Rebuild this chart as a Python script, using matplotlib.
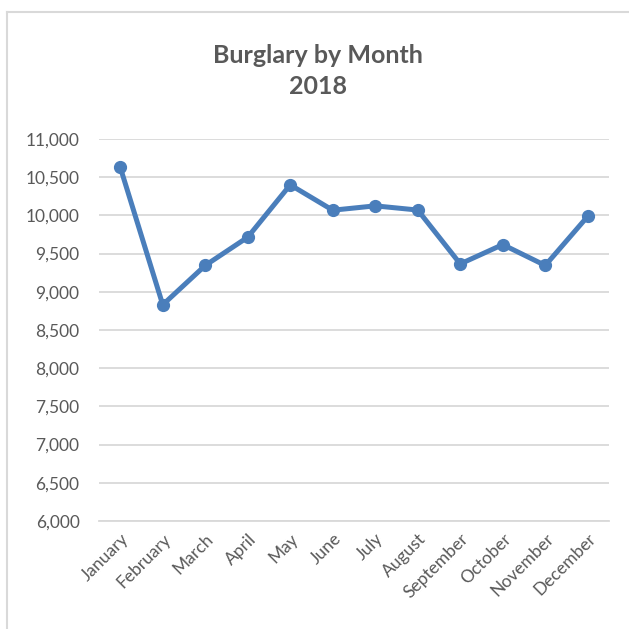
import matplotlib
matplotlib.use("Agg")
import matplotlib.pyplot as plt
from matplotlib.ticker import FuncFormatter, MultipleLocator
from matplotlib.lines import Line2D

months = ["January", "February", "March", "April", "May", "June",
          "July", "August", "September", "October", "November", "December"]
burglaries = [10630, 8830, 9345, 9715, 10400, 10068,
              10125, 10070, 9365, 9618, 9345, 9988]
title_text = "Burglary by Month\n2018"

LINE_COLOR = "#4a7ebb"
TEXT_COLOR = "#595959"
GRID_COLOR = "#d9d9d9"

plt.rcParams["font.family"] = ["Lato", "DejaVu Sans"]

fig = plt.figure(figsize=(6.29, 6.29), dpi=100)
ax = fig.add_axes([99 / 629, 1 - 521 / 629, 510 / 629, 382 / 629])

x = list(range(len(months)))
ax.plot(x, burglaries, color=LINE_COLOR, linewidth=3.6, marker="o",
        markersize=8.5, solid_joinstyle="round", zorder=3)

ax.set_xlim(-0.5, len(months) - 0.5)
ax.set_ylim(6000, 11000)
ax.yaxis.set_major_locator(MultipleLocator(500))
ax.yaxis.set_major_formatter(FuncFormatter(lambda v, _: f"{int(v):,}"))
ax.grid(axis="y", color=GRID_COLOR, linewidth=1.3, zorder=0)
ax.set_axisbelow(True)

ax.set_xticks(x)
ax.set_xticklabels(months, rotation=45, ha="right", rotation_mode="anchor")
ax.tick_params(axis="x", length=0, pad=7, labelsize=12.5, labelcolor=TEXT_COLOR)
ax.tick_params(axis="y", length=0, pad=14, labelsize=12.5, labelcolor=TEXT_COLOR)

for side in ("top", "right", "left"):
    ax.spines[side].set_visible(False)
ax.spines["bottom"].set_color(GRID_COLOR)
ax.spines["bottom"].set_linewidth(1.3)

# Chart frame along the left and top edges
fig.add_artist(Line2D([7 / 629, 7 / 629], [0, 1 - 12 / 629],
                      transform=fig.transFigure, color=GRID_COLOR, linewidth=1.5))
fig.add_artist(Line2D([7 / 629, 1], [1 - 12 / 629, 1 - 12 / 629],
                      transform=fig.transFigure, color=GRID_COLOR, linewidth=1.5))

fig.text(0.5 * (7 + 629) / 629, 1 - 71 / 629, title_text, ha="center", va="center",
         fontsize=18, fontweight="bold", color=TEXT_COLOR, linespacing=1.4)

fig.savefig("out.png", dpi=100, facecolor="white")
